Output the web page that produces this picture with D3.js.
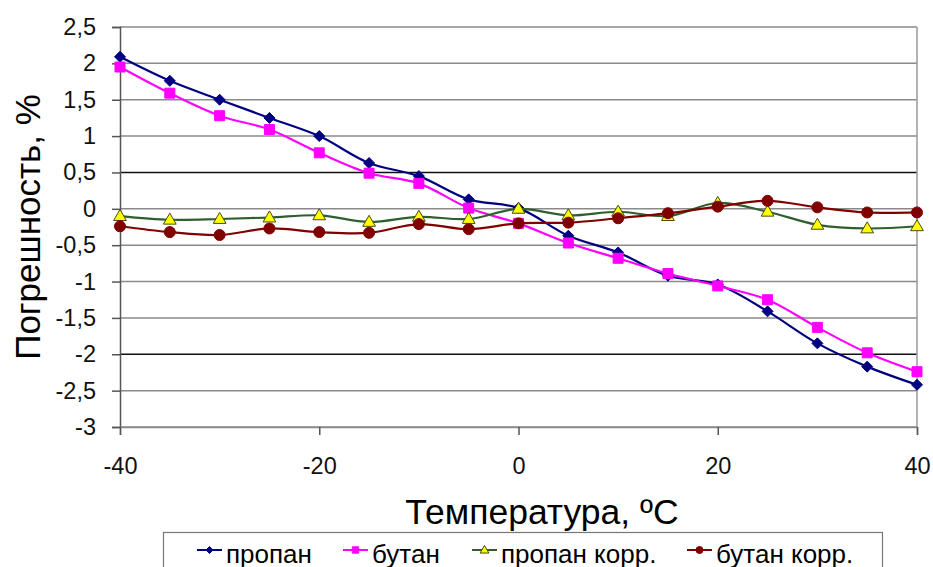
<!DOCTYPE html>
<html>
<head>
<meta charset="utf-8">
<script src="https://cdn.jsdelivr.net/npm/d3@7"></script>
<style>
  body { margin: 0; background: #fff; }
  svg { display: block; font-family: "Liberation Sans", Arial, sans-serif; }
</style>
</head>
<body>
<svg id="chart" width="933" height="567"></svg>
<script>
// temperature points, degC
const temps = [-40, -35, -30, -25, -20, -15, -10, -5, 0, 5, 10, 15, 20, 25, 30, 35, 40];

const propane = [2.09, 1.76, 1.50, 1.25, 1.00, 0.63, 0.45, 0.13, 0.01, -0.37, -0.60, -0.92, -1.04, -1.41, -1.85, -2.17, -2.42];
const butane = [1.95, 1.59, 1.28, 1.09, 0.77, 0.49, 0.35, 0.01, -0.20, -0.47, -0.68, -0.89, -1.06, -1.25, -1.63, -1.98, -2.24];
const propaneCorr = [-0.10, -0.15, -0.14, -0.12, -0.09, -0.18, -0.11, -0.14, 0.00, -0.09, -0.04, -0.10, 0.08, -0.04, -0.22, -0.27, -0.24];
const butaneCorr = [-0.24, -0.32, -0.36, -0.27, -0.32, -0.33, -0.21, -0.28, -0.20, -0.19, -0.13, -0.06, 0.03, 0.11, 0.02, -0.05, -0.05];

const seriesNames = ['пропан', 'бутан', 'пропан корр.', 'бутан корр.'];
const yTicks = [2.5, 2, 1.5, 1, 0.5, 0, -0.5, -1, -1.5, -2, -2.5, -3];
const xTicks = [-40, -20, 0, 20, 40];

const yTitle = 'Погрешность, %';
const xTitle = 'Температура, \u00BAС';

const series = [
  { name: seriesNames[0], values: propane, color: '#000080', shape: 'diamond', fill: '#000080', stroke: '#000080' },
  { name: seriesNames[1], values: butane, color: '#ff00ff', shape: 'square', fill: '#ff00ff', stroke: '#ff00ff' },
  { name: seriesNames[2], values: propaneCorr, color: '#2f5f2f', shape: 'triangle', fill: '#ffff00', stroke: '#4a4a10' },
  { name: seriesNames[3], values: butaneCorr, color: '#800000', shape: 'circle', fill: '#800000', stroke: '#800000' },
];

const svg = d3.select('#chart');
const plot = { left: 120, right: 917, top: 27, bottom: 427 };

const x = d3.scaleLinear().domain([-40, 40]).range([plot.left, plot.right]);
const y = d3.scaleLinear().domain([-3, 2.5]).range([plot.bottom, plot.top]);
const fmt = (d) => String(d).replace('.', ',');

// gridlines
svg.append('g')
  .selectAll('line')
  .data(yTicks)
  .join('line')
  .attr('x1', plot.left).attr('x2', plot.right)
  .attr('y1', (d) => y(d)).attr('y2', (d) => y(d))
  .attr('stroke', (d) => (d === 0.5 || d === -2 ? '#111' : '#8a8a8a'))
  .attr('stroke-width', 1.5);

// right frame
svg.append('line')
  .attr('x1', plot.right).attr('x2', plot.right)
  .attr('y1', plot.top).attr('y2', plot.bottom)
  .attr('stroke', '#9a9a9a').attr('stroke-width', 1.5);

// y axis
const yAxis = svg.append('g')
  .attr('transform', `translate(${plot.left},0)`)
  .call(d3.axisLeft(y).tickValues(yTicks).tickFormat(fmt).tickSize(8).tickPadding(16));
yAxis.select('.domain').attr('stroke', '#555').attr('stroke-width', 1.5);
yAxis.selectAll('.tick line').attr('stroke', '#555').attr('stroke-width', 1.5);
yAxis.selectAll('.tick text')
  .attr('font-size', 23.5).attr('fill', '#111')
  .attr('font-family', '"Liberation Sans", Arial, sans-serif');

// x axis
const xAxis = svg.append('g')
  .attr('transform', `translate(0,${plot.bottom})`)
  .call(d3.axisBottom(x).tickValues(xTicks).tickFormat(fmt).tickSize(8).tickPadding(22));
xAxis.select('.domain').attr('stroke', '#8a8a8a').attr('stroke-width', 1.5);
xAxis.selectAll('.tick line').attr('stroke', '#555').attr('stroke-width', 1.5);
xAxis.selectAll('.tick text')
  .attr('font-size', 23.5).attr('fill', '#111')
  .attr('font-family', '"Liberation Sans", Arial, sans-serif');

// axis titles
svg.append('text')
  .attr('transform', `translate(40,${(plot.top + plot.bottom) / 2}) rotate(-90)`)
  .attr('text-anchor', 'middle')
  .attr('font-size', 35)
  .attr('fill', '#000')
  .text(yTitle);

svg.append('text')
  .attr('x', 542).attr('y', 524)
  .attr('text-anchor', 'middle')
  .attr('font-size', 35.5)
  .attr('fill', '#000')
  .text(xTitle);

// markers
function markerPath(shape, r) {
  if (shape === 'diamond') return `M0,${-r}L${r},0L0,${r}L${-r},0Z`;
  if (shape === 'square') return `M${-r},${-r}H${r}V${r}H${-r}Z`;
  if (shape === 'triangle') {
    const h = r * 1.9;
    return `M0,${-h * 0.6}L${r * 1.1},${h * 0.4}L${-r * 1.1},${h * 0.4}Z`;
  }
  return d3.arc()({ innerRadius: 0, outerRadius: r, startAngle: 0, endAngle: 2 * Math.PI });
}

const markerSize = { diamond: 5.5, square: 5, triangle: 5.8, circle: 5.5 };

const line = d3.line()
  .x((d) => x(d[0]))
  .y((d) => y(d[1]))
  .curve(d3.curveCatmullRom.alpha(0.5));

series.forEach((s) => {
  const pts = temps.map((t, i) => [t, s.values[i]]);
  const g = svg.append('g');
  g.append('path')
    .datum(pts)
    .attr('d', line)
    .attr('fill', 'none')
    .attr('stroke', s.color)
    .attr('stroke-width', 2.2);
  g.selectAll('path.mk')
    .data(pts)
    .join('path')
    .attr('class', 'mk')
    .attr('transform', (d) => `translate(${x(d[0])},${y(d[1])})`)
    .attr('d', markerPath(s.shape, markerSize[s.shape]))
    .attr('fill', s.fill)
    .attr('stroke', s.stroke)
    .attr('stroke-width', 1);
});

// legend
const legend = svg.append('g');
legend.append('rect')
  .attr('x', 163.5).attr('y', 532.5)
  .attr('width', 719).attr('height', 60)
  .attr('fill', '#fff')
  .attr('stroke', '#777')
  .attr('stroke-width', 1.2);

const legendX = [197, 343, 472, 687];
const legendMarker = { diamond: 3.5, square: 3.2, triangle: 4, circle: 3.5 };
series.forEach((s, i) => {
  const lx = legendX[i];
  const ly = 550;
  legend.append('line')
    .attr('x1', lx).attr('x2', lx + 25)
    .attr('y1', ly).attr('y2', ly)
    .attr('stroke', s.color).attr('stroke-width', 2);
  legend.append('path')
    .attr('transform', `translate(${lx + 12.5},${ly})`)
    .attr('d', markerPath(s.shape, legendMarker[s.shape]))
    .attr('fill', s.fill)
    .attr('stroke', s.stroke)
    .attr('stroke-width', 1);
  legend.append('text')
    .attr('x', lx + 29).attr('y', 563)
    .attr('font-size', 26)
    .attr('fill', '#000')
    .text(s.name);
});
</script>
</body>
</html>
